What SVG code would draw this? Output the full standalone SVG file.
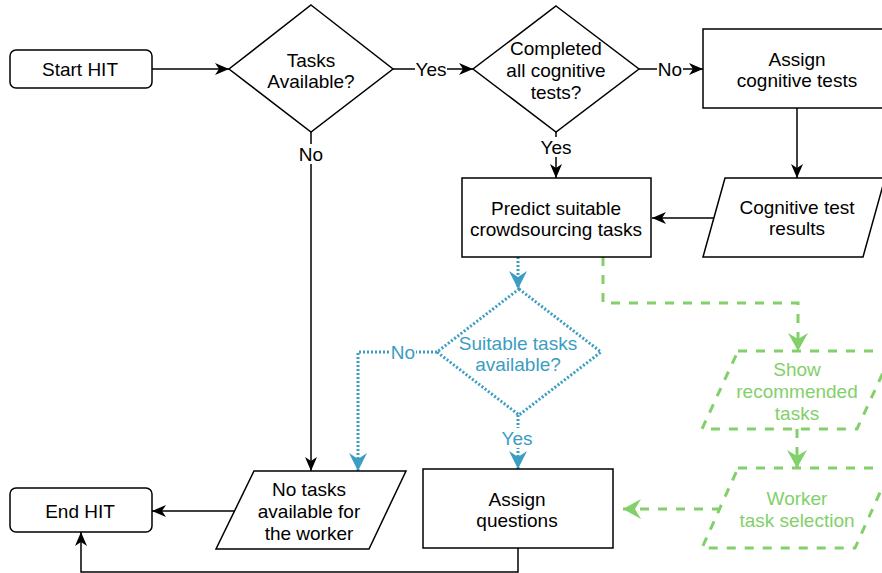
<svg xmlns="http://www.w3.org/2000/svg" width="882" height="573" viewBox="0 0 882 573">
<style>
  text { font-family: "Liberation Sans", Arial, Helvetica, sans-serif; font-size: 19px; text-anchor: middle; }
  .k { fill: #000; }
  .b { fill: #3B9DC1; }
  .g { fill: #82D06A; }
  .shape { fill: #fff; stroke: #000; stroke-width: 1.5; }
  .bshape { fill: #fff; stroke: #3B9DC1; stroke-width: 3; stroke-dasharray: 2 2; }
  .gshape { fill: #fff; stroke: #82D06A; stroke-width: 3; stroke-dasharray: 9 9; }
  .line { fill: none; stroke: #000; stroke-width: 1.5; }
  .bline { fill: none; stroke: #3B9DC1; stroke-width: 3; stroke-dasharray: 2 2; }
  .gline { fill: none; stroke: #82D06A; stroke-width: 3; stroke-dasharray: 9 9; }
  .lbl { fill: #fff; stroke: none; }
</style>
<defs>
  <marker id="ak" markerUnits="userSpaceOnUse" viewBox="-15 -8 16 16" refX="0" refY="0" markerWidth="16" markerHeight="16" orient="auto">
    <path d="M0,0 L-14,-6 L-10,0 L-14,6 Z" fill="#000"/>
  </marker>
  <marker id="ab" markerUnits="userSpaceOnUse" viewBox="-19 -10 20 20" refX="0" refY="0" markerWidth="20" markerHeight="20" orient="auto">
    <path d="M0,0 L-18,-9 L-12,0 L-18,9 Z" fill="#3B9DC1"/>
  </marker>
  <marker id="ag" markerUnits="userSpaceOnUse" viewBox="-19 -10 20 20" refX="0" refY="0" markerWidth="20" markerHeight="20" orient="auto">
    <path d="M0,0 L-18,-10 L-12,0 L-18,10 Z" fill="#82D06A"/>
  </marker>
</defs>
<rect width="882" height="573" fill="#fff"/>

<g id="connectors">
  <path class="line" d="M152,69 L229,69" marker-end="url(#ak)"/>
  <path class="line" d="M393,69 L473,69" marker-end="url(#ak)"/>
  <path class="line" d="M639,69 L703,69" marker-end="url(#ak)"/>
  <path class="line" d="M797,108 L797,178" marker-end="url(#ak)"/>
  <path class="line" d="M714,218 L652,218" marker-end="url(#ak)"/>
  <path class="line" d="M556,132 L556,178" marker-end="url(#ak)"/>
  <path class="line" d="M311,132 L311,471" marker-end="url(#ak)"/>
  <path class="line" d="M234,511 L152,511" marker-end="url(#ak)"/>
  <path class="line" d="M518,548 L518,572 L81,572 L81,532" marker-end="url(#ak)"/>
  <path class="bline" d="M518,257 L518,289" marker-end="url(#ab)"/>
  <path class="bline" d="M437,352 L358,352 L358,471" marker-end="url(#ab)"/>
  <path class="bline" d="M518,415 L518,469" marker-end="url(#ab)"/>
  <path class="gline" d="M603,257 L603,303 L798,303 L798,351" marker-end="url(#ag)"/>
  <path class="gline" d="M797,429 L797,468" marker-end="url(#ag)"/>
  <path class="gline" d="M721,509 L623,509" marker-end="url(#ag)"/>
  <!-- labels -->
  <rect class="lbl" x="415" y="59" width="32" height="20"/>
  <text class="k" x="431" y="75.5">Yes</text>
  <rect class="lbl" x="657" y="59" width="26" height="20"/>
  <text class="k" x="670" y="75.5">No</text>
  <rect class="lbl" x="540" y="137" width="32" height="20"/>
  <text class="k" x="556" y="153.5">Yes</text>
  <rect class="lbl" x="298" y="144" width="26" height="20"/>
  <text class="k" x="311" y="160.5">No</text>
  <rect class="lbl" x="390" y="342" width="26" height="20"/>
  <text class="b" x="403" y="358.5">No</text>
  <rect class="lbl" x="501" y="428" width="32" height="20"/>
  <text class="b" x="517" y="444.5">Yes</text>
</g>

<g id="start">
  <rect class="shape" x="10" y="50" width="142" height="38" rx="6"/>
  <text class="k" x="80" y="75.5">Start HIT</text>
</g>
<g id="tasks-available">
  <polygon class="shape" points="311,5 393,69 311,132 229,69"/>
  <text class="k" x="311" y="66.5">Tasks</text>
  <text class="k" x="311" y="87.5">Available?</text>
</g>
<g id="completed-tests">
  <polygon class="shape" points="556,6 639,69 556,132 473,69"/>
  <text class="k" x="556" y="54.5">Completed</text>
  <text class="k" x="556" y="77">all cognitive</text>
  <text class="k" x="556" y="98.5">tests?</text>
</g>
<g id="assign-cognitive">
  <rect class="shape" x="703" y="29" width="188" height="79"/>
  <text class="k" x="797" y="65.5">Assign</text>
  <text class="k" x="797" y="86.5">cognitive tests</text>
</g>
<g id="cognitive-results">
  <polygon class="shape" points="725,178 885,178 863,257 703,257"/>
  <text class="k" x="797" y="213.5">Cognitive test</text>
  <text class="k" x="797" y="234.5">results</text>
</g>
<g id="predict">
  <rect class="shape" x="462" y="178" width="189" height="79"/>
  <text class="k" x="556" y="214.5">Predict suitable</text>
  <text class="k" x="556" y="235.5">crowdsourcing tasks</text>
</g>
<g id="suitable-available">
  <polygon class="bshape" points="519,289 601,352 519,415 437,352"/>
  <text class="b" x="518" y="349.5">Suitable tasks</text>
  <text class="b" x="518" y="370.5">available?</text>
</g>
<g id="show-recommended">
  <polygon class="gshape" points="738,351 893,351 857,429 702,429"/>
  <text class="g" x="797" y="375.5">Show</text>
  <text class="g" x="797" y="397.5">recommended</text>
  <text class="g" x="797" y="419.5">tasks</text>
</g>
<g id="worker-selection">
  <polygon class="gshape" points="738,468 891,468 855,548 702,548"/>
  <text class="g" x="797" y="504.5">Worker</text>
  <text class="g" x="797" y="527">task selection</text>
</g>
<g id="assign-questions">
  <rect class="shape" x="423" y="469" width="190" height="79"/>
  <text class="k" x="517" y="505.5">Assign</text>
  <text class="k" x="517" y="526.5">questions</text>
</g>
<g id="no-tasks">
  <polygon class="shape" points="254,471 406,471 369,549 216,549"/>
  <text class="k" x="309" y="495.5">No tasks</text>
  <text class="k" x="309" y="517.5">available for</text>
  <text class="k" x="309" y="539.5">the worker</text>
</g>
<g id="end">
  <rect class="shape" x="10" y="488" width="142" height="44" rx="6"/>
  <text class="k" x="80" y="517.5">End HIT</text>
</g>
</svg>
